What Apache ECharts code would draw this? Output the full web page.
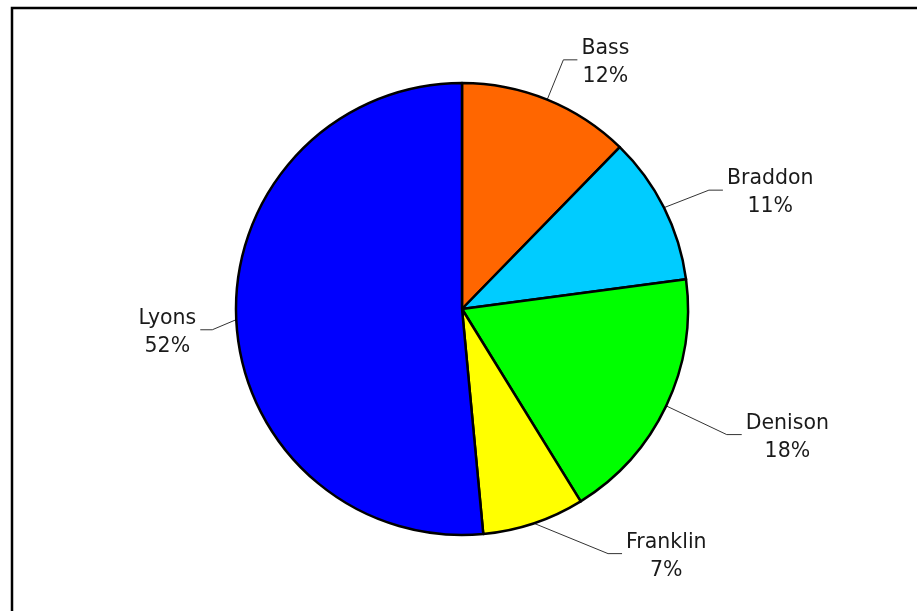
<!DOCTYPE html>
<html>
<head>
<meta charset="utf-8">
<script src="https://cdn.jsdelivr.net/npm/echarts@6/dist/echarts.min.js"></script>
<style>
html,body{margin:0;padding:0;background:#fff;}
#chart{width:917px;height:611px;}
</style>
</head>
<body>
<div id="chart"></div>
<script>
// ---- data ----
const categories = ['Bass', 'Braddon', 'Denison', 'Franklin', 'Lyons'];
const values = [12.3, 10.6, 18.3, 7.3, 51.5];

// ---- styling (not data) ----
const palette = ['#FF6600', '#00CCFF', '#00FF00', '#FFFF00', '#0000FF'];
const leaderLen = [43, 48, 67, 32, 24];
const leaderLen2 = [14, 16, 15, 78, 12];
// small adjustments of leader elbows (style tweaks)
const elbowDx = [0, 2, 0, 64, 0];
const elbowDy = [0, 4, 0, 0, 9];
const textDy = 3;

const chart = echarts.init(document.getElementById('chart'), null, {renderer: 'canvas'});

const seriesData = categories.map((name, i) => ({
  name: name,
  value: values[i],
  itemStyle: {color: palette[i]},
  labelLine: {length: leaderLen[i], length2: leaderLen2[i]}
}));

chart.setOption({
  backgroundColor: '#ffffff',
  animation: false,
  graphic: [{
    type: 'rect',
    shape: {x: 12, y: 8, width: 930, height: 640},
    style: {fill: 'none', stroke: '#000', lineWidth: 2.5},
    silent: true
  }],
  series: [{
    type: 'pie',
    center: [462, 309],
    radius: [0, 226],
    startAngle: 90,
    clockwise: true,
    percentPrecision: 0,
    avoidLabelOverlap: false,
    itemStyle: {borderColor: '#000', borderWidth: 2.5},
    emphasis: {disabled: true},
    label: {
      show: true,
      position: 'outside',
      distanceToLabelLine: 4,
      formatter: p => '{t|' + p.name + '}\n{t|' + p.percent + '%}',
      rich: {
        t: {
          align: 'center',
          fontFamily: 'DejaVu Sans',
          fontSize: 20.5,
          lineHeight: 28,
          color: '#1a1a1a'
        }
      }
    },
    labelLine: {
      show: true,
      lineStyle: {color: '#333', width: 1}
    },
    labelLayout: function (p) {
      const i = p.dataIndex;
      const out = {dy: textDy + elbowDy[i]};
      if (p.labelLinePoints && p.labelLinePoints.length === 3) {
        const pts = p.labelLinePoints.map(a => a.slice());
        pts[1][0] += elbowDx[i];
        pts[1][1] += elbowDy[i];
        pts[2][1] += elbowDy[i];
        out.labelLinePoints = pts;
      }
      return out;
    },
    data: seriesData
  }]
});
</script>
</body>
</html>
